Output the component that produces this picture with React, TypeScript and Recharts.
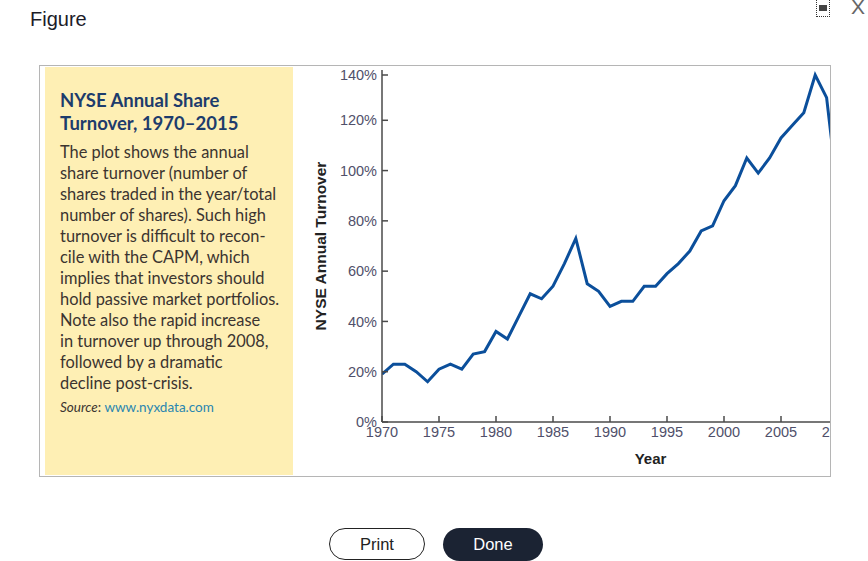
import { LineChart, Line, XAxis, YAxis } from "recharts";

// NYSE annual share turnover (%)
const years = [
  1970, 1971, 1972, 1973, 1974, 1975, 1976, 1977, 1978, 1979,
  1980, 1981, 1982, 1983, 1984, 1985, 1986, 1987, 1988, 1989,
  1990, 1991, 1992, 1993, 1994, 1995, 1996, 1997, 1998, 1999,
  2000, 2001, 2002, 2003, 2004, 2005, 2006, 2007, 2008, 2009, 2010,
];
const turnover = [
  19, 23, 23, 20, 16, 21, 23, 21, 27, 28,
  36, 33, 42, 51, 49, 54, 63, 73, 55, 52,
  46, 48, 48, 54, 54, 59, 63, 68, 76, 78,
  88, 94, 105, 99, 105, 113, 118, 123, 138, 129, 90,
];
const yearTicks = [1970, 1975, 1980, 1985, 1990, 1995, 2000, 2005, 2010, 2015];
const pctTicks = [0, 20, 40, 60, 80, 100, 120, 140];

const panelTitle = ["NYSE Annual Share", "Turnover, 1970–2015"];
const panelBody = [
  "The plot shows the annual",
  "share turnover (number of",
  "shares traded in the year/total",
  "number of shares). Such high",
  "turnover is difficult to recon-",
  "cile with the CAPM, which",
  "implies that investors should",
  "hold passive market portfolios.",
  "Note also the rapid increase",
  "in turnover up through 2008,",
  "followed by a dramatic",
  "decline post-crisis.",
];

const data = years.map((year, i) => ({ year, turnover: turnover[i] }));

const sans = '"Liberation Sans", Arial, sans-serif';
const tickColor = "#50506a";
const axisColor = "#4a4a4a";

const XTick = ({ x, y, payload }: any) => (
  <g>
    <line x1={x} x2={x} y1={y - 5} y2={y - 11} stroke={axisColor} strokeWidth={1.5} />
    <text x={x} y={y} dy="0.71em" textAnchor="middle" fill={tickColor} fontSize={14.5} fontFamily={sans}>
      {payload.value}
    </text>
  </g>
);

const YTick = ({ x, y, payload }: any) => (
  <g>
    <line x1={x + 5} x2={x + 11} y1={y} y2={y} stroke={axisColor} strokeWidth={1.5} />
    <text x={x} y={y} dy="0.355em" textAnchor="end" fill={tickColor} fontSize={14.5} fontFamily={sans}>
      {`${payload.value}%`}
    </text>
  </g>
);

export default function App() {
  return (
    <div style={{ position: "absolute", left: 0, top: 0, width: 868, height: 561, background: "#fff", fontFamily: sans, overflow: "hidden" }}>
      <div style={{ position: "absolute", left: 30, top: 8, fontSize: 20, color: "#1c1c28" }}>Figure</div>

      {/* window controls */}
      <div style={{ position: "absolute", left: 816, top: -2, width: 14, height: 19, border: "1px dotted #333", boxSizing: "border-box" }}>
        <div style={{ position: "absolute", left: 2, top: 6, width: 8, height: 6, background: "#444" }} />
      </div>
      <div style={{ position: "absolute", left: 851, top: -5, fontSize: 21, color: "#666" }}>X</div>

      {/* figure frame */}
      <div style={{ position: "absolute", left: 39, top: 65, width: 792, height: 412, border: "1px solid #b5b5b5", boxSizing: "border-box", overflow: "hidden" }}>
        <div style={{ position: "absolute", left: 5, top: 1, width: 248, height: 408, background: "#feefb4" }}>
          <div style={{ position: "absolute", left: 15, top: 22, fontFamily: "Lato, sans-serif", fontWeight: 700, fontSize: 18.5, lineHeight: "23px", color: "#1d3c6c", whiteSpace: "nowrap" }}>
            {panelTitle.map((t) => <div key={t}>{t}</div>)}
          </div>
          <div style={{ position: "absolute", left: 15, top: 74, fontFamily: "Lato, sans-serif", fontSize: 16.4, lineHeight: "21px", color: "#3b3430", whiteSpace: "nowrap" }}>
            {panelBody.map((t) => <div key={t}>{t}</div>)}
          </div>
          <div style={{ position: "absolute", left: 15, top: 331, fontFamily: "Lato, sans-serif", fontSize: 13.5, lineHeight: "18px", color: "#3b3430", whiteSpace: "nowrap" }}>
            <i>Source</i>: <span style={{ color: "#2a86b0" }}>www.nyxdata.com</span>
          </div>
        </div>

        <div style={{ position: "absolute", left: 260, top: 0 }}>
          <LineChart width={595} height={406} data={data} margin={{ top: 4, right: 0, bottom: 0, left: 0 }}>
            <XAxis
              dataKey="year"
              type="number"
              domain={[1970, 2015]}
              ticks={yearTicks}
              allowDataOverflow
              height={50}
              tickSize={0}
              tickMargin={5}
              tickLine={false}
              tick={XTick}
              axisLine={{ stroke: axisColor, strokeWidth: 1.5 }}
              label={{ value: "Year", position: "insideBottom", offset: 8, dx: 12, fill: "#222", fontSize: 15, fontWeight: 700, fontFamily: sans }}
            />
            <YAxis
              width={82}
              domain={[0, 140]}
              ticks={pctTicks}
              allowDataOverflow
              tickSize={0}
              tickMargin={5}
              tickLine={false}
              tick={YTick}
              axisLine={{ stroke: axisColor, strokeWidth: 1.5 }}
              label={{ value: "NYSE Annual Turnover", angle: -90, position: "insideLeft", offset: 20, fill: "#222", fontSize: 15.5, fontWeight: 700, fontFamily: sans, style: { textAnchor: "middle" } }}
            />
            <Line type="linear" dataKey="turnover" stroke="#0b4f9b" strokeWidth={3} dot={false} isAnimationActive={false} />
          </LineChart>
        </div>
      </div>

      {/* dialog buttons */}
      <div style={{ position: "absolute", left: 329, top: 528, width: 96, height: 32, border: "1.5px solid #222", borderRadius: 16, boxSizing: "border-box", display: "flex", alignItems: "center", justifyContent: "center", fontSize: 16.5, color: "#222" }}>Print</div>
      <div style={{ position: "absolute", left: 443, top: 528, width: 100, height: 33, background: "#1b2333", borderRadius: 16.5, display: "flex", alignItems: "center", justifyContent: "center", fontSize: 16.5, color: "#fff" }}>Done</div>
    </div>
  );
}
